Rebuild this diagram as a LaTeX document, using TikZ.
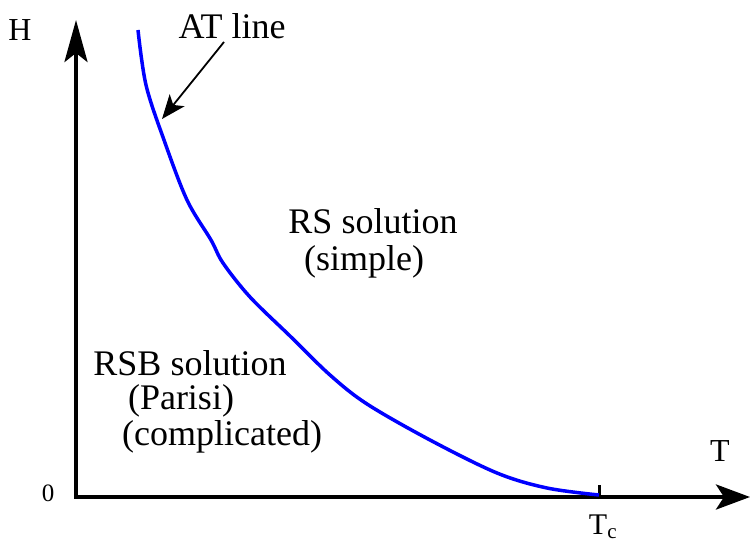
\documentclass[tikz,border=0pt]{standalone}
\usepackage{fontspec}
\setmainfont{Liberation Serif}
\usetikzlibrary{arrows.meta}
\begin{document}
\begin{tikzpicture}[x=1pt,y=-1pt,
  lbl/.style={inner sep=0pt,font=\fontsize{36}{40}\selectfont},
  axlbl/.style={inner sep=0pt,font=\fontsize{32}{36}\selectfont},
  axis/.style={line width=4.2pt,miter limit=10},
  curve/.style={draw=blue,line width=3.5pt},
  pointer/.style={line width=1.8pt,-{Stealth[length=24pt,width=19pt,inset=6pt]}}]
\useasboundingbox (0,0) rectangle (751,548);
% axes
\coordinate (ytip) at (76,20);
\coordinate (origin) at (76,497);
\coordinate (xtip) at (750,497);
\draw[axis,{Stealth[length=42pt,width=23pt,inset=9pt]}-{Stealth[length=34pt,width=25pt,inset=8pt]}]
  (ytip) -- (origin) -- (xtip);
% tick at Tc
\coordinate (tcb) at (599,499);
\coordinate (tct) at (599,485);
\draw[line width=3pt] (tcb) -- (tct);
% AT line curve
\draw[curve] plot[smooth,tension=0.55] coordinates {
  (138,30) (146,85) (164,140) (187,200) (211,240) (223,263) (250,297)
  (290,336) (330,375) (367,404) (430,440) (497,473) (547,488) (599,495)};
% labels
\node[axlbl] (H) at (20,30) {H};
\node[axlbl] (T) at (720,451) {T};
\node[inner sep=0pt,font=\fontsize{25}{28}\selectfont] (zero) at (48,493) {0};
\node[inner sep=0pt,font=\fontsize{30}{34}\selectfont,anchor=north] (Tc) at (603,515) {T\textsubscript{c}};
\node[lbl] (AT) at (232,26) {AT line};
\coordinate (attail) at (224,42);
\coordinate (athead) at (162,119);
\draw[pointer] (attail) -- (athead);
\node[lbl] (RS) at (373,221) {RS solution};
\node[lbl] (simple) at (364,262) {(simple)};
\node[lbl] (RSB) at (190,363) {RSB solution};
\node[lbl] (parisi) at (181,401) {(Parisi)};
\node[lbl] (compl) at (222,437) {(complicated)};
\end{tikzpicture}
\end{document}
